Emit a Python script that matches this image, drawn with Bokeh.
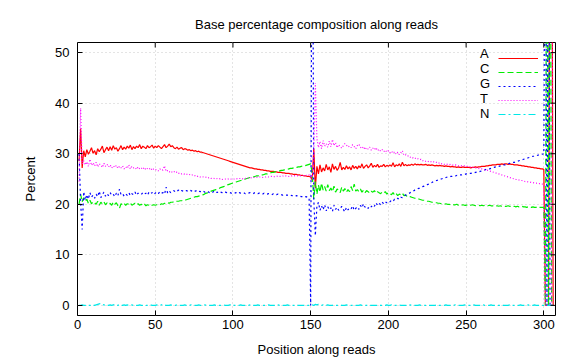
import math
from bokeh.plotting import figure
from bokeh.models import Range1d, FixedTicker, Legend, LegendItem
from bokeh.embed import file_html
from bokeh.resources import INLINE

# ---- data ----
positions = list(range(1, 307))
x_ticks = [0, 50, 100, 150, 200, 250, 300]
y_ticks = [0, 10, 20, 30, 40, 50]
bases = ["A", "C", "G", "T", "N"]

pct_a = [
    28.5, 35.0, 27.2, 30.6, 29.4, 30.8, 29.9, 30.5, 31.2, 30.1,
    30.6, 29.8, 31.0, 30.4, 30.9, 31.5, 30.2, 30.8, 31.3, 30.6,
    31.4, 30.7, 31.6, 30.9, 31.2, 30.5, 31.0, 31.6, 30.8, 31.3,
    30.9, 31.5, 31.1, 31.7, 30.8, 31.4, 31.0, 31.5, 31.2, 31.8,
    31.0, 31.5, 31.3, 31.0, 31.6, 31.2, 31.4, 31.7, 31.1, 31.5,
    31.2, 31.6, 31.3, 31.0, 31.4, 31.8, 31.2, 31.5, 31.9, 31.4,
    31.6, 31.2, 31.0, 31.3, 30.9, 31.1, 31.2, 30.8, 31.0, 30.9,
    30.7, 30.8, 30.6, 30.7, 30.5, 30.6, 30.4, 30.5, 30.3, 30.3,
    30.2, 30.1, 30.0, 29.9, 29.8, 29.7, 29.6, 29.5, 29.4, 29.3,
    29.2, 29.1, 29.0, 28.9, 28.8, 28.7, 28.6, 28.5, 28.4, 28.3,
    28.2, 28.1, 28.0, 27.9, 27.8, 27.7, 27.6, 27.5, 27.4, 27.3,
    27.2, 27.2, 27.1, 27.0, 27.0, 26.9, 26.9, 26.8, 26.8, 26.7,
    26.7, 26.6, 26.6, 26.5, 26.5, 26.5, 26.4, 26.4, 26.3, 26.3,
    26.3, 26.2, 26.2, 26.1, 26.1, 26.1, 26.0, 26.0, 25.9, 25.9,
    25.9, 25.8, 25.8, 25.7, 25.7, 25.6, 25.6, 25.5, 25.5, 25.4,
    24.8, 31.0, 23.2, 27.5, 26.0, 27.8, 26.4, 27.2, 26.6, 27.9,
    26.8, 27.4, 26.3, 28.0, 26.9, 27.5, 26.7, 27.2, 28.3, 26.8,
    27.3, 26.9, 27.6, 27.0, 27.4, 26.8, 27.7, 27.1, 27.5, 27.0,
    27.6, 27.2, 28.0, 27.1, 27.5, 27.8, 27.2, 27.6, 28.1, 27.3,
    27.7, 27.4, 27.9, 27.3, 27.6, 27.5, 27.9, 27.4, 27.7, 27.5,
    27.8, 27.5, 28.2, 27.4, 27.8, 27.6, 28.0, 27.5, 28.3, 27.6,
    27.9, 27.6, 27.8, 27.7, 27.9, 27.7, 28.0, 27.8, 27.9, 27.8,
    27.9, 27.8, 27.8, 27.9, 27.7, 27.8, 27.7, 27.8, 27.7, 27.6,
    27.7, 27.6, 27.7, 27.6, 27.6, 27.5, 27.6, 27.5, 27.5, 27.4,
    27.5, 27.4, 27.4, 27.3, 27.4, 27.3, 27.3, 27.4, 27.3, 27.3,
    27.3, 27.3, 27.2, 27.3, 27.3, 27.4, 27.3, 27.4, 27.4, 27.5,
    27.5, 27.5, 27.6, 27.6, 27.7, 27.7, 27.8, 27.8, 27.8, 27.9,
    27.9, 27.9, 28.0, 27.9, 28.0, 28.0, 27.9, 28.0, 27.9, 27.9,
    27.8, 27.8, 27.8, 27.7, 27.7, 27.6, 27.6, 27.5, 27.5, 27.4,
    27.4, 27.3, 27.3, 27.2, 27.2, 27.1, 27.1, 27.0, 27.0, 26.9,
    0.0, 0.0, 0.0, 100.0, 100.0, 0.0,
]

pct_c = [
    20.0, 22.0, 20.5, 21.3, 20.6, 21.0, 20.2, 20.8, 20.1, 20.5,
    20.3, 20.0, 20.6, 19.8, 20.4, 20.1, 20.5, 19.9, 20.3, 20.0,
    20.2, 19.8, 20.4, 20.0, 20.3, 19.7, 19.2, 20.1, 19.9, 20.2,
    19.8, 20.1, 20.0, 20.3, 19.8, 20.0, 20.2, 19.9, 20.1, 19.8,
    20.0, 19.8, 20.1, 19.7, 19.9, 19.8, 20.0, 19.8, 19.9, 19.8,
    19.9, 20.0, 19.9, 20.1, 20.0, 20.2, 20.1, 20.3, 20.2, 20.4,
    20.4, 20.5, 20.5, 20.6, 20.6, 20.7, 20.7, 20.8, 20.8, 20.9,
    21.0, 21.1, 21.2, 21.3, 21.4, 21.5, 21.5, 21.6, 21.7, 21.8,
    21.9, 22.1, 22.2, 22.3, 22.5, 22.6, 22.7, 22.8, 22.9, 23.0,
    23.1, 23.3, 23.4, 23.5, 23.6, 23.8, 23.9, 24.0, 24.1, 24.2,
    24.3, 24.4, 24.5, 24.6, 24.7, 24.8, 24.9, 25.0, 25.1, 25.2,
    25.3, 25.3, 25.4, 25.5, 25.6, 25.6, 25.7, 25.8, 25.8, 25.9,
    26.0, 26.0, 26.1, 26.2, 26.3, 26.3, 26.4, 26.5, 26.5, 26.6,
    26.7, 26.7, 26.8, 26.9, 26.9, 27.0, 27.1, 27.1, 27.2, 27.3,
    27.3, 27.4, 27.4, 27.5, 27.6, 27.6, 27.7, 27.8, 27.9, 28.0,
    26.0, 21.0, 24.5, 22.0, 23.8, 22.4, 24.2, 22.8, 23.5, 22.6,
    23.9, 22.7, 23.2, 22.5, 23.6, 22.4, 23.0, 22.8, 22.3, 23.4,
    22.6, 23.1, 22.4, 22.9, 22.5, 23.5, 22.7, 24.0, 22.6, 22.9,
    22.5, 23.0, 22.4, 22.8, 22.3, 22.7, 22.5, 22.2, 22.6, 22.4,
    22.7, 22.2, 22.5, 22.3, 22.1, 22.4, 22.2, 22.5, 22.0, 22.3,
    22.1, 21.9, 22.3, 21.8, 22.1, 21.7, 22.0, 21.9, 22.2, 21.7,
    21.8, 21.6, 21.7, 21.5, 21.4, 21.3, 21.2, 21.1, 21.1, 21.0,
    20.9, 20.8, 20.8, 20.7, 20.6, 20.6, 20.5, 20.4, 20.4, 20.3,
    20.3, 20.2, 20.2, 20.1, 20.1, 20.0, 20.1, 20.0, 20.0, 19.9,
    20.0, 19.9, 19.9, 20.0, 19.8, 19.9, 19.8, 19.9, 19.8, 19.8,
    19.9, 19.8, 19.8, 19.9, 19.8, 19.7, 19.8, 19.8, 19.7, 19.8,
    19.7, 19.8, 19.7, 19.7, 19.8, 19.7, 19.7, 19.6, 19.7, 19.7,
    19.6, 19.7, 19.6, 19.7, 19.6, 19.6, 19.7, 19.6, 19.6, 19.5,
    19.6, 19.5, 19.6, 19.5, 19.5, 19.6, 19.5, 19.5, 19.4, 19.5,
    19.5, 19.4, 19.5, 19.4, 19.4, 19.5, 19.4, 19.4, 19.4, 19.4,
    0.0, 100.0, 0.0, 100.0, 0.0, 0.0,
]

pct_g = [
    30.0, 20.5, 15.0, 22.5, 20.8, 21.9, 21.0, 22.3, 21.4, 21.8,
    21.2, 22.0, 21.5, 22.6, 21.3, 21.9, 22.4, 21.6, 22.1, 21.7,
    22.3, 21.8, 22.0, 21.5, 22.2, 21.7, 23.0, 21.9, 22.1, 21.6,
    22.0, 21.8, 22.3, 21.7, 22.1, 21.9, 22.4, 21.8, 22.2, 22.0,
    21.9, 22.3, 22.0, 22.2, 21.8, 22.4, 22.1, 22.3, 21.9, 22.2,
    22.4, 22.1, 22.5, 22.2, 22.3, 22.0, 23.4, 22.2, 22.6, 22.3,
    22.5, 22.7, 22.4, 22.6, 22.8, 22.5, 22.7, 22.6, 22.8, 22.7,
    22.6, 22.8, 22.7, 22.5, 22.7, 22.6, 22.8, 22.6, 22.5, 22.7,
    22.6, 22.4, 22.6, 22.5, 22.3, 22.5, 22.4, 22.6, 22.3, 22.4,
    22.2, 22.4, 22.3, 22.2, 22.4, 22.3, 22.2, 22.3, 22.2, 22.3,
    22.2, 22.3, 22.1, 22.3, 22.2, 22.2, 22.3, 22.1, 22.2, 22.2,
    22.3, 22.2, 22.1, 22.3, 22.2, 22.1, 22.2, 22.1, 22.0, 22.2,
    22.1, 22.0, 22.1, 22.0, 21.9, 22.1, 22.0, 21.9, 22.0, 21.9,
    21.9, 21.8, 21.9, 21.8, 21.8, 21.7, 21.8, 21.7, 21.7, 21.6,
    21.7, 21.6, 21.6, 21.5, 21.5, 21.4, 21.5, 21.4, 21.3, 0.0,
    100.0, 21.0, 13.8, 19.6, 20.4, 18.8, 19.7, 18.9, 19.9, 18.7,
    19.5, 18.9, 19.3, 18.6, 19.8, 19.0, 19.4, 18.8, 19.2, 19.6,
    19.0, 18.5, 19.4, 18.9, 19.3, 19.1, 19.7, 18.8, 19.2, 19.5,
    19.0, 19.8, 19.3, 20.1, 19.4, 19.6, 19.2, 19.7, 19.5, 19.9,
    19.6, 20.3, 19.8, 20.2, 19.9, 20.4, 20.1, 20.5, 20.3, 20.6,
    20.5, 20.8, 20.6, 21.0, 20.9, 21.2, 21.0, 21.4, 21.3, 21.7,
    21.8, 22.0, 22.1, 22.3, 22.4, 22.6, 22.8, 22.9, 23.1, 23.2,
    23.4, 23.5, 23.6, 23.8, 23.9, 24.0, 24.2, 24.3, 24.5, 24.6,
    24.7, 24.8, 24.9, 25.0, 25.1, 25.2, 25.3, 25.4, 25.4, 25.5,
    25.5, 25.6, 25.6, 25.7, 25.7, 25.8, 25.8, 25.9, 25.9, 26.0,
    26.0, 26.1, 26.1, 26.2, 26.2, 26.3, 26.4, 26.4, 26.5, 26.6,
    26.7, 26.8, 26.9, 27.0, 27.0, 27.1, 27.2, 27.3, 27.4, 27.5,
    27.5, 27.6, 27.7, 27.8, 27.8, 27.9, 28.0, 28.1, 28.2, 28.3,
    28.3, 28.4, 28.5, 28.6, 28.7, 28.8, 28.9, 29.0, 29.1, 29.2,
    29.3, 29.4, 29.5, 29.5, 29.6, 29.7, 29.8, 29.9, 29.9, 30.0,
    100.0, 0.0, 100.0, 0.0, 0.0, 0.0,
]

pct_t = [
    24.5, 39.0, 28.0, 28.6, 27.8, 28.4, 27.5, 28.9, 27.7, 28.2,
    27.6, 28.3, 27.4, 28.0, 27.8, 27.3, 28.1, 27.5, 27.9, 27.4,
    27.8, 27.2, 27.6, 27.3, 27.7, 27.1, 27.5, 27.2, 27.6, 27.0,
    27.4, 27.1, 27.8, 27.0, 27.5, 27.2, 27.3, 26.9, 27.4, 27.0,
    27.2, 26.9, 27.3, 26.8, 27.1, 26.9, 27.2, 26.7, 27.0, 26.8,
    26.9, 26.6, 27.0, 26.7, 26.8, 27.6, 26.5, 26.7, 26.4, 26.6,
    26.3, 26.5, 26.2, 26.4, 26.1, 26.2, 26.0, 26.1, 25.9, 26.0,
    25.8, 25.9, 25.7, 25.8, 25.6, 25.7, 25.5, 25.6, 25.4, 25.5,
    25.4, 25.3, 25.4, 25.2, 25.3, 25.1, 25.2, 25.1, 25.0, 25.1,
    25.0, 25.1, 24.9, 25.0, 25.0, 24.9, 25.0, 24.9, 25.0, 25.0,
    25.0, 25.1, 25.0, 25.1, 25.1, 25.0, 25.2, 25.1, 25.2, 25.2,
    25.3, 25.2, 25.3, 25.3, 25.4, 25.3, 25.4, 25.4, 25.3, 25.4,
    25.4, 25.5, 25.4, 25.5, 25.5, 25.4, 25.5, 25.5, 25.6, 25.5,
    25.5, 25.6, 25.5, 25.6, 25.6, 25.5, 25.6, 25.6, 25.7, 25.6,
    25.6, 25.7, 25.6, 25.7, 25.7, 25.6, 25.7, 25.7, 25.8, 25.8,
    25.0, 30.0, 44.0, 33.0, 31.2, 32.4, 31.0, 32.6, 31.5, 32.0,
    31.3, 32.5, 31.4, 32.8, 31.6, 32.2, 31.2, 31.8, 31.4, 31.1,
    31.6, 32.0, 31.7, 31.3, 31.5, 31.2, 31.8, 31.4, 31.0, 31.6,
    31.9, 31.3, 31.0, 31.4, 30.8, 31.2, 30.9, 31.3, 30.7, 31.1,
    30.8, 31.2, 30.6, 30.9, 30.5, 30.8, 30.4, 30.7, 30.3, 30.6,
    30.2, 30.5, 30.1, 30.4, 29.9, 30.3, 29.8, 30.2, 30.6, 29.7,
    29.8, 29.5, 29.6, 29.3, 29.4, 29.1, 29.2, 28.9, 29.0, 28.8,
    28.9, 28.6, 28.7, 28.5, 28.6, 28.4, 28.5, 28.3, 28.4, 28.2,
    28.3, 28.1, 28.2, 28.0, 28.1, 27.9, 28.0, 27.9, 27.8, 27.9,
    27.8, 27.7, 27.8, 27.7, 27.6, 27.7, 27.6, 27.5, 27.6, 27.5,
    27.5, 27.4, 27.4, 27.3, 27.3, 27.2, 27.2, 27.1, 27.0, 27.0,
    26.9, 26.8, 26.8, 26.7, 26.6, 26.5, 26.4, 26.3, 26.2, 26.1,
    26.0, 25.9, 25.8, 25.7, 25.6, 25.5, 25.4, 25.3, 25.2, 25.1,
    25.0, 24.9, 24.9, 24.8, 24.7, 24.7, 24.6, 24.5, 24.5, 24.4,
    24.4, 24.3, 24.3, 24.2, 24.2, 24.1, 24.1, 24.0, 24.0, 23.9,
    0.0, 0.0, 0.0, 0.0, 0.0, 100.0,
]

pct_n = [
    0.0, 0.0, 0.1, 0.0, 0.0, 0.1, 0.0, 0.0, 0.0, 0.1,
    0.0, 0.1, 0.2, 0.3, 0.4, 0.2, 0.1, 0.0, 0.1, 0.0,
    0.1, 0.0, 0.1, 0.2, 0.1, 0.0, 0.2, 0.1, 0.0, 0.1,
    0.0, 0.1, 0.0, 0.0, 0.1, 0.0, 0.1, 0.0, 0.0, 0.1,
    0.0, 0.0, 0.1, 0.0, 0.0, 0.0, 0.1, 0.0, 0.0, 0.0,
    0.1, 0.0, 0.0, 0.1, 0.2, 0.1, 0.0, 0.0, 0.0, 0.1,
    0.0, 0.0, 0.0, 0.1, 0.0, 0.0, 0.0, 0.0, 0.1, 0.0,
    0.0, 0.0, 0.1, 0.0, 0.0, 0.0, 0.0, 0.1, 0.0, 0.0,
    0.0, 0.1, 0.0, 0.0, 0.0, 0.0, 0.0, 0.1, 0.0, 0.0,
    0.0, 0.0, 0.0, 0.1, 0.0, 0.0, 0.0, 0.1, 0.2, 0.1,
    0.0, 0.0, 0.0, 0.0, 0.1, 0.0, 0.0, 0.0, 0.0, 0.0,
    0.1, 0.0, 0.0, 0.0, 0.0, 0.1, 0.0, 0.0, 0.0, 0.0,
    0.0, 0.0, 0.1, 0.0, 0.0, 0.0, 0.0, 0.0, 0.1, 0.0,
    0.0, 0.0, 0.0, 0.0, 0.1, 0.0, 0.0, 0.0, 0.0, 0.0,
    0.1, 0.0, 0.0, 0.0, 0.0, 0.0, 0.1, 0.0, 0.0, 0.0,
    0.1, 0.0, 0.2, 0.1, 0.2, 0.1, 0.0, 0.1, 0.0, 0.0,
    0.1, 0.0, 0.0, 0.0, 0.1, 0.0, 0.0, 0.0, 0.1, 0.0,
    0.0, 0.0, 0.1, 0.0, 0.0, 0.0, 0.0, 0.1, 0.0, 0.0,
    0.0, 0.1, 0.0, 0.0, 0.0, 0.0, 0.1, 0.0, 0.0, 0.0,
    0.0, 0.0, 0.0, 0.1, 0.0, 0.0, 0.0, 0.0, 0.1, 0.0,
    0.0, 0.1, 0.0, 0.0, 0.0, 0.0, 0.1, 0.0, 0.0, 0.0,
    0.0, 0.0, 0.0, 0.1, 0.0, 0.0, 0.0, 0.0, 0.0, 0.1,
    0.0, 0.0, 0.0, 0.0, 0.1, 0.0, 0.0, 0.0, 0.0, 0.0,
    0.1, 0.0, 0.0, 0.0, 0.0, 0.0, 0.1, 0.0, 0.0, 0.0,
    0.0, 0.0, 0.1, 0.0, 0.0, 0.0, 0.0, 0.0, 0.1, 0.0,
    0.0, 0.0, 0.0, 0.0, 0.1, 0.0, 0.0, 0.0, 0.0, 0.0,
    0.1, 0.0, 0.0, 0.0, 0.0, 0.1, 0.0, 0.0, 0.0, 0.0,
    0.0, 0.0, 0.1, 0.0, 0.0, 0.0, 0.0, 0.1, 0.0, 0.0,
    0.0, 0.0, 0.0, 0.0, 0.1, 0.0, 0.0, 0.0, 0.0, 0.1,
    0.0, 0.0, 0.0, 0.1, 0.0, 0.0, 0.0, 0.0, 0.0, 0.0,
    0.0, 0.0, 0.0, 0.0, 0.0, 0.0,
]

series = [pct_a, pct_c, pct_g, pct_t, pct_n]
colors = ["#ff0000", "#00ee00", "#0000ff", "#ff00ff", "#00e8e8"]
dashes = ["solid", "6 3", "2 3", "1 2", "7 3 2 3"]

FONT = "Liberation Sans"
X_MIN, X_MAX = 0, 307.5
Y_MIN, Y_MAX = -2, 52

p = figure(width=576, height=360, output_backend="svg", toolbar_location=None,
           x_range=Range1d(X_MIN, X_MAX), y_range=Range1d(Y_MIN, Y_MAX),
           min_border_left=77, min_border_right=21, min_border_top=42,
           min_border_bottom=45)
p.background_fill_color = "white"
p.border_fill_color = "white"
p.outline_line_color = "black"
p.outline_line_width = 1

p.title.text = "Base percentage composition along reads"
p.title.align = "center"
p.title.text_font = FONT
p.title.text_font_size = "13px"
p.title.text_font_style = "normal"
p.title.text_color = "black"
p.title.standoff = 21

renderers = []
for name, vals, col, dash in zip(bases, series, colors, dashes):
    n = min(len(positions), len(vals))
    r = p.line(positions[:n], vals[:n], line_color=col, line_width=1.2, line_dash=dash)
    renderers.append(r)

xt = FixedTicker(ticks=x_ticks, minor_ticks=[])
yt = FixedTicker(ticks=y_ticks, minor_ticks=[])

for ax in (p.xaxis[0], p.yaxis[0]):
    ax.axis_line_alpha = 0
    ax.major_tick_in = 5
    ax.major_tick_out = 0
    ax.minor_tick_in = 0
    ax.minor_tick_out = 0
    ax.major_tick_line_color = "black"
    ax.major_label_text_font = FONT
    ax.major_label_text_color = "black"
    ax.major_label_text_font_size = "13px"
    ax.axis_label_text_font = FONT
    ax.axis_label_text_font_size = "13px"
    ax.axis_label_text_font_style = "normal"
    ax.axis_label_text_color = "black"
p.xaxis[0].ticker = xt
p.yaxis[0].ticker = yt
p.xaxis[0].major_label_standoff = 4
p.yaxis[0].major_label_standoff = 8
p.xaxis[0].axis_label = "Position along reads"
p.yaxis[0].axis_label = "Percent"
p.xaxis[0].axis_label_standoff = 10
p.yaxis[0].axis_label_standoff = 14

# mirrored inward ticks on the top and right edges of the frame
p.ray(x=x_ticks, y=[Y_MAX] * len(x_ticks), length=5, length_units="screen",
      angle=-math.pi / 2, line_color="black", line_width=1)
p.ray(x=[X_MAX] * len(y_ticks), y=y_ticks, length=5, length_units="screen",
      angle=math.pi, line_color="black", line_width=1)

p.xgrid.ticker = xt
p.ygrid.ticker = yt
for g in (p.xgrid[0], p.ygrid[0]):
    g.grid_line_color = "#c8c8c8"
    g.grid_line_dash = "1 3"
    g.grid_line_width = 1

legend_style = dict(orientation="vertical", glyph_height=14, label_height=14,
                    spacing=0, padding=0, margin=0,
                    background_fill_alpha=0, border_line_alpha=0,
                    label_text_font=FONT, label_text_font_size="13px",
                    label_text_color="black")
# text column (letters) followed by the line samples, gnuplot style
legend_text = Legend(items=[LegendItem(label=b, renderers=[r]) for b, r in zip(bases, renderers)],
                     location=(403, 194), glyph_width=0, label_standoff=0, label_width=0,
                     **legend_style)
legend_lines = Legend(items=[LegendItem(label=" ", renderers=[r]) for r in renderers],
                      location=(421, 194), glyph_width=40, label_standoff=0, label_width=0,
                      **legend_style)
p.add_layout(legend_text)
p.add_layout(legend_lines)

open("out.html", "w").write(file_html(p, INLINE))
